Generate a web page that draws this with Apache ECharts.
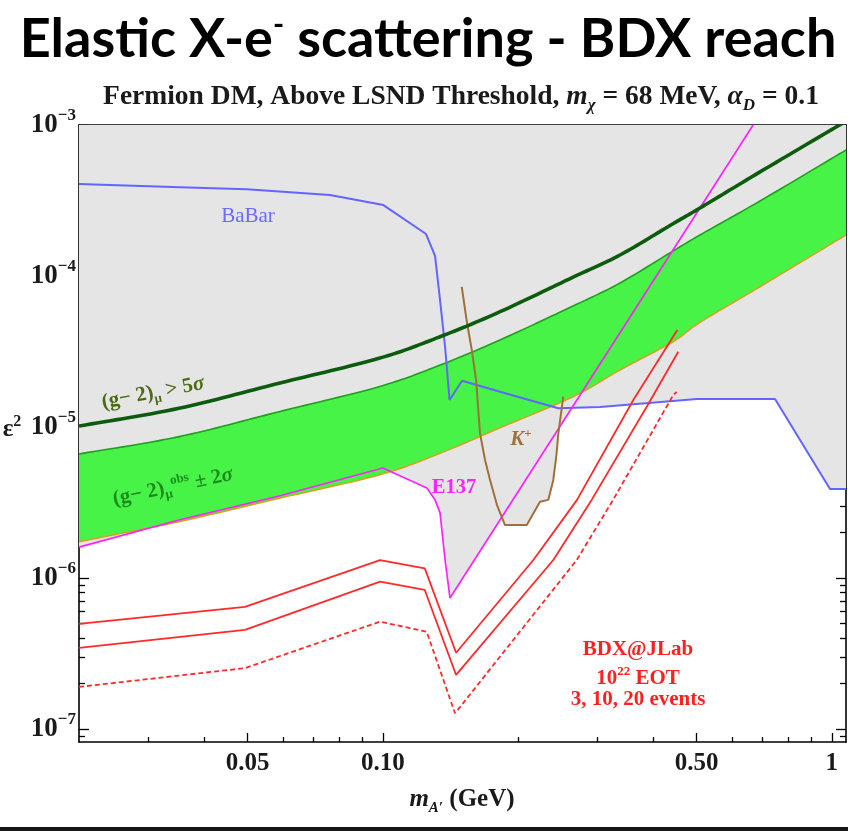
<!DOCTYPE html>
<html>
<head>
<meta charset="utf-8">
<script src="https://cdn.jsdelivr.net/npm/echarts@6/dist/echarts.min.js"></script>
<style>
  html, body { margin: 0; padding: 0; background: #ffffff; }
  #chart { width: 848px; height: 831px; }
</style>
</head>
<body>
<div id="chart"></div>
<script>
// ---- axis ranges and ticks (m_A' in GeV, epsilon^2) ----
const xMin = 0.02105, xMax = 1.0755;
const yMin = 8.2e-8, yMax = 1.0e-3;
const xMajorTicks = [0.05, 0.1, 0.5, 1];
const xTickLabels = ['0.05', '0.10', '0.50', '1'];
const xMinorTicks = [0.03, 0.04, 0.06, 0.07, 0.08, 0.09, 0.2, 0.3, 0.4, 0.6, 0.7, 0.8, 0.9];
const yMajorTicks = [1e-7, 1e-6, 1e-5, 1e-4, 1e-3];
const yTickExponents = ['−7', '−6', '−5', '−4', '−3'];
const yMinorTicks = [9e-8,
  2e-7, 3e-7, 4e-7, 5e-7, 6e-7, 7e-7, 8e-7, 9e-7,
  2e-6, 3e-6, 4e-6, 5e-6, 6e-6, 7e-6, 8e-6, 9e-6,
  2e-5, 3e-5, 4e-5, 5e-5, 6e-5, 7e-5, 8e-5, 9e-5,
  2e-4, 3e-4, 4e-4, 5e-4, 6e-4, 7e-4, 8e-4, 9e-4];

// ---- (g-2)_mu curves ----
const gm2Mass       = [0.02105, 0.03516, 0.05871, 0.09806, 0.1341, 0.1824, 0.2653, 0.3375, 0.4429, 0.5086, 0.6920, 1.0755];
const gm2FiveSigma  = [1.015e-5, 1.33e-5, 1.948e-5, 2.85e-5, 3.96e-5, 5.80e-5, 9.82e-5, 1.377e-4, 2.22e-4, 2.82e-4, 4.89e-4, 1.06e-3];
const gm2BandUpper  = [6.63e-6, 8.63e-6, 1.263e-5, 1.849e-5, 2.57e-5, 3.77e-5, 6.33e-5, 8.99e-5, 1.464e-4, 1.87e-4, 3.14e-4, 6.83e-4];
const gm2BandLower  = [1.74e-6, 2.36e-6, 3.37e-6, 4.81e-6, 6.69e-6, 9.88e-6, 1.587e-5, 2.385e-5, 3.67e-5, 4.93e-5, 8.49e-5, 1.87e-4];

// ---- BaBar limit ----
const babarMass = [0.02105, 0.03537, 0.04975, 0.07627, 0.1003, 0.1248, 0.1307, 0.1341, 0.1376, 0.1408, 0.1501, 0.1824, 0.246, 0.3046, 0.5008, 0.7473, 0.9908, 1.0755];
const babarEps2 = [4.07e-4, 3.87e-4, 3.75e-4, 3.44e-4, 2.95e-4, 1.897e-4, 1.357e-4, 6.93e-5, 3.40e-5, 1.51e-5, 2.025e-5, 1.713e-5, 1.33e-5, 1.357e-5, 1.532e-5, 1.532e-5, 3.89e-6, 3.89e-6];

// ---- E137 limit ----
const e137Mass = [0.02105, 0.03516, 0.05871, 0.1, 0.1254, 0.1307, 0.1341, 0.1376, 0.1411, 0.668];
const e137Eps2 = [1.60e-6, 2.42e-6, 3.49e-6, 5.35e-6, 3.94e-6, 3.29e-6, 2.70e-6, 1.316e-6, 7.37e-7, 1.0e-3];

// ---- K+ decay limit ----
const kaonMass = [0.1499, 0.154, 0.1578, 0.1613, 0.1646, 0.1689, 0.1733, 0.1796, 0.1871, 0.2092, 0.2239, 0.2336, 0.2397, 0.2436, 0.246, 0.2523];
const kaonEps2 = [8.46e-5, 4.88e-5, 3.24e-5, 2.05e-5, 9.08e-6, 6.05e-6, 4.46e-6, 3.04e-6, 2.24e-6, 2.24e-6, 3.20e-6, 3.29e-6, 4.46e-6, 6.53e-6, 9.08e-6, 1.587e-5];

// ---- BDX@JLab reach, 10^22 EOT ----
const bdx20Mass = [0.02105, 0.0493, 0.0986, 0.124, 0.1456, 0.2164, 0.2707, 0.3613, 0.4528];
const bdx20Eps2 = [4.96e-7, 6.43e-7, 1.315e-6, 1.159e-6, 3.20e-7, 1.315e-6, 3.29e-6, 1.51e-5, 4.39e-5];
const bdx10Mass = [0.02105, 0.0493, 0.0986, 0.124, 0.1456, 0.2397, 0.2918, 0.387, 0.455];
const bdx10Eps2 = [3.44e-7, 4.53e-7, 9.45e-7, 8.33e-7, 2.28e-7, 1.315e-6, 3.29e-6, 1.363e-5, 3.15e-5];
const bdx3Mass  = [0.02105, 0.0493, 0.0986, 0.1252, 0.1448, 0.2703, 0.3257, 0.4436, 0.4515];
const bdx3Eps2  = [1.90e-7, 2.53e-7, 5.14e-7, 4.41e-7, 1.27e-7, 1.315e-6, 3.29e-6, 1.63e-5, 1.71e-5];

// ---- styling ----
const SERIF = '"Liberation Serif", "Times New Roman", serif';
const INK = '#1a1a1a';
const GREY = '#e5e5e5';

const pairs = (xs, ys) => xs.map((x, i) => [x, ys[i]]);

// Catmull-Rom resampling of already-projected pixel points, for smooth curves.
function catmull(pts, steps) {
  const out = [];
  const n = pts.length;
  for (let i = 0; i < n - 1; i++) {
    const p0 = pts[Math.max(i - 1, 0)], p1 = pts[i], p2 = pts[i + 1], p3 = pts[Math.min(i + 2, n - 1)];
    for (let s = 0; s < steps; s++) {
      const t = s / steps, t2 = t * t, t3 = t2 * t;
      out.push([0, 1].map(k => 0.5 * (2 * p1[k] + (-p0[k] + p2[k]) * t +
        (2 * p0[k] - 5 * p1[k] + 4 * p2[k] - p3[k]) * t2 +
        (-p0[k] + 3 * p1[k] - 3 * p2[k] + p3[k]) * t3)));
    }
  }
  out.push(pts[n - 1].slice());
  return out;
}

function clipRect(params) {
  const c = params.coordSys;
  return { type: 'rect', shape: { x: c.x, y: c.y, width: c.width, height: c.height } };
}

function xAxisDef(position, ticks, len, withLine, withLabels) {
  return {
    type: 'log', min: xMin, max: xMax, position: position,
    axisLine: { show: withLine, lineStyle: { color: '#000', width: 1.6 } },
    axisTick: { show: true, inside: true, length: len, customValues: ticks,
                lineStyle: { color: '#000', width: 1.3 } },
    axisLabel: withLabels ? {
      show: true, customValues: xMajorTicks, margin: 9,
      color: INK, fontFamily: SERIF, fontWeight: 'bold', fontSize: 25,
      formatter: (v) => {
        const i = xMajorTicks.findIndex(t => Math.abs(t - v) / t < 1e-6);
        return i >= 0 ? xTickLabels[i] : '';
      }
    } : { show: false },
    splitLine: { show: false }, minorTick: { show: false }, minorSplitLine: { show: false }
  };
}

function yAxisDef(position, ticks, len, withLine, withLabels) {
  return {
    type: 'log', min: yMin, max: yMax, position: position,
    axisLine: { show: withLine, lineStyle: { color: '#000', width: 1.6 } },
    axisTick: { show: true, inside: true, length: len, customValues: ticks,
                lineStyle: { color: '#000', width: 1.3 } },
    axisLabel: withLabels ? {
      show: true, customValues: yMajorTicks, margin: 3,
      formatter: (v) => {
        const i = yMajorTicks.findIndex(t => Math.abs(t - v) / t < 1e-6);
        return i >= 0 ? '{b|10}{s|' + yTickExponents[i] + '}' : '';
      },
      rich: {
        b: { fontFamily: SERIF, fontWeight: 'bold', fontSize: 27, color: INK, lineHeight: 36 },
        s: { fontFamily: SERIF, fontWeight: 'bold', fontSize: 17, color: INK, lineHeight: 17, verticalAlign: 'top' }
      }
    } : { show: false },
    splitLine: { show: false }, minorTick: { show: false }, minorSplitLine: { show: false }
  };
}

function regionFill(name, xs, ys) {
  return {
    name: name, type: 'line', data: pairs(xs, ys), symbol: 'none', silent: true,
    lineStyle: { width: 0, opacity: 0 },
    areaStyle: { color: GREY, opacity: 1, origin: 'end' },
    z: 1
  };
}

function curve(name, xs, ys, color, width, type, z) {
  return {
    name: name, type: 'line', data: pairs(xs, ys), symbol: 'none', silent: true,
    lineStyle: { color: color, width: width, type: type || 'solid' },
    z: z || 5
  };
}

function label(x, y, text, opts) {
  return {
    type: 'text', x: x, y: y, rotation: opts.rotation || 0, z: 50,
    style: Object.assign({
      text: text, align: 'center', verticalAlign: 'middle',
      textAlign: 'center', textVerticalAlign: 'middle',
      fontFamily: SERIF, fontWeight: 'bold', fontSize: 17, fill: INK
    }, opts.style)
  };
}

const subRich = (size, color, extra) => Object.assign({
  fontFamily: SERIF, fontWeight: 'bold', fontSize: size, fill: color, color: color,
  lineHeight: size, verticalAlign: 'bottom'
}, extra || {});
const supRich = (size, color, extra) => Object.assign({
  fontFamily: SERIF, fontWeight: 'bold', fontSize: size, fill: color, color: color,
  lineHeight: size, verticalAlign: 'top'
}, extra || {});
const itRich = (size, color, lh) => ({
  fontFamily: SERIF, fontWeight: 'bold', fontStyle: 'italic', fontSize: size, fill: color, color: color, lineHeight: lh
});

const chart = echarts.init(document.getElementById('chart'), null, { renderer: 'canvas' });

chart.setOption({
  animation: false,
  backgroundColor: '#ffffff',
  grid: { left: 79, right: 2, top: 125, bottom: 89, containLabel: false, outerBoundsMode: 'none' },
  xAxis: [
    xAxisDef('bottom', xMajorTicks, 9, true, true),
    xAxisDef('bottom', xMinorTicks, 5, false, false),
    xAxisDef('top', xMajorTicks, 9, true, false),
    xAxisDef('top', xMinorTicks, 5, false, false)
  ],
  yAxis: [
    yAxisDef('left', yMajorTicks, 10, true, true),
    yAxisDef('left', yMinorTicks, 6, false, false),
    yAxisDef('right', yMajorTicks, 10, true, false),
    yAxisDef('right', yMinorTicks, 6, false, false)
  ],
  series: [
    // excluded regions (grey)
    regionFill('BaBar region', babarMass, babarEps2),
    regionFill('E137 region', e137Mass, e137Eps2),
    regionFill('K+ region', kaonMass, kaonEps2),
    // (g-2)_mu observed +/- 2 sigma band with its edges
    {
      name: 'g-2 band', type: 'custom', coordinateSystem: 'cartesian2d', silent: true, z: 2,
      data: [[gm2Mass[0], gm2BandLower[0]]],
      renderItem: (params, api) => {
        const up = catmull(gm2Mass.map((m, i) => api.coord([m, gm2BandUpper[i]])), 16);
        const lo = catmull(gm2Mass.map((m, i) => api.coord([m, gm2BandLower[i]])), 16);
        return {
          type: 'group', clipPath: clipRect(params),
          children: [
            { type: 'polygon', shape: { points: up.concat(lo.slice().reverse()) }, style: { fill: '#46f346' } },
            { type: 'polyline', shape: { points: lo }, style: { stroke: '#d9a020', lineWidth: 1.5, fill: null } },
            { type: 'polyline', shape: { points: up }, style: { stroke: '#1f9e1f', lineWidth: 1.6, fill: null } }
          ]
        };
      }
    },
    // (g-2)_mu > 5 sigma
    {
      name: 'g-2 5 sigma', type: 'custom', coordinateSystem: 'cartesian2d', silent: true, z: 7,
      data: [[gm2Mass[0], gm2FiveSigma[0]]],
      renderItem: (params, api) => {
        const pts = catmull(gm2Mass.map((m, i) => api.coord([m, gm2FiveSigma[i]])), 16);
        return {
          type: 'group', clipPath: clipRect(params),
          children: [{ type: 'polyline', shape: { points: pts }, style: { stroke: '#0d5c0d', lineWidth: 3.6, fill: null } }]
        };
      }
    },
    curve('BaBar', babarMass, babarEps2, '#6464ff', 2, 'solid', 6),
    curve('E137', e137Mass, e137Eps2, '#ff22ff', 1.7, 'solid', 6),
    curve('K+', kaonMass, kaonEps2, '#a0703c', 2, 'solid', 6),
    curve('BDX 20 events', bdx20Mass, bdx20Eps2, '#ff2a2a', 1.8, 'solid', 8),
    curve('BDX 10 events', bdx10Mass, bdx10Eps2, '#ff2a2a', 1.8, 'solid', 8),
    curve('BDX 3 events', bdx3Mass, bdx3Eps2, '#ff2a2a', 1.8, [5, 3], 8)
  ],
  graphic: [
    // headline
    label(428, 40, 'Elastic X-e{sup|-} scattering - BDX reach', {
      style: {
        fontFamily: 'Lato, "Open Sans", sans-serif', fontWeight: 'bold', fontSize: 54, fill: '#000',
        lineHeight: 60,
        rich: { sup: { fontFamily: 'Lato, sans-serif', fontWeight: 'bold', fontSize: 30, fill: '#000', lineHeight: 30, verticalAlign: 'top' } }
      }
    }),
    // plot title
    label(461, 97, 'Fermion DM, Above LSND Threshold, {it|m}{sub|χ} = 68 MeV, {it|α}{sub|D} = 0.1', {
      style: {
        fontSize: 27.5, lineHeight: 34, fill: INK,
        rich: {
          it: itRich(27.5, INK, 34),
          sub: subRich(17, INK, { fontStyle: 'italic' })
        }
      }
    }),
    // axis names
    label(12, 430, '{e|ε}{s|2}', {
      style: {
        rich: {
          e: { fontFamily: SERIF, fontWeight: 'bold', fontSize: 25, fill: INK, lineHeight: 32 },
          s: supRich(16, INK)
        }
      }
    }),
    label(462, 800, '{m|m}{sub|A\u2032} (GeV)', {
      style: {
        fontSize: 25, lineHeight: 32, fill: INK,
        rich: {
          m: itRich(25, INK, 32),
          sub: subRich(15, INK, { fontStyle: 'italic' })
        }
      }
    }),
    // curve labels
    label(248, 216, 'BaBar', { style: { fontWeight: 'normal', fontSize: 21, fill: '#6a6aff' } }),
    label(153, 393, '(g\u2212 2){sub|μ} > 5{it|σ}', {
      rotation: 0.19,
      style: {
        fontSize: 21, lineHeight: 26, fill: '#4a6a12',
        rich: { sub: subRich(13, '#4a6a12'), it: itRich(21, '#4a6a12', 26) }
      }
    }),
    label(173, 487, '(g\u2212 2){sub|μ}{sup|obs} ± 2{it|σ}', {
      rotation: 0.21,
      style: {
        fontSize: 21, lineHeight: 26, fill: '#1f8a1f',
        rich: { sub: subRich(13, '#1f8a1f'), sup: supRich(13, '#1f8a1f'), it: itRich(21, '#1f8a1f', 26) }
      }
    }),
    label(454, 488, 'E137', { style: { fontSize: 20.5, fill: '#ff22ff' } }),
    label(521, 440, '{k|K}{sup|+}', {
      style: {
        fill: '#a0703c',
        rich: { k: itRich(21, '#a0703c', 26), sup: supRich(13, '#a0703c') }
      }
    }),
    label(638, 650, 'BDX@JLab', { style: { fontSize: 21, fill: '#ff2020' } }),
    label(638, 679, '10{sup|22} EOT', {
      style: { fontSize: 21, lineHeight: 28, fill: '#ff2020', rich: { sup: supRich(13, '#ff2020') } }
    }),
    label(638, 700, '3, 10, 20 events', { style: { fontSize: 21, fill: '#ff2020' } }),
    // slide footer rule
    { type: 'rect', shape: { x: 0, y: 827, width: 848, height: 4 }, style: { fill: '#161616' }, z: 50 }
  ]
});
</script>
</body>
</html>
